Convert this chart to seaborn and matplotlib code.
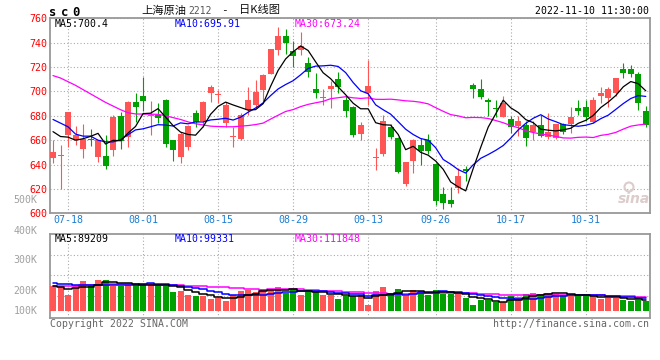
import numpy as np
import pandas as pd
import matplotlib
matplotlib.use("Agg")
import matplotlib.pyplot as plt
from matplotlib.patches import Ellipse
import seaborn as sns

# ---------------- data ----------------
open_ = [645.7, 646.7, 664.6, 660.5, 652.5, 660.5, 645.8, 646.8, 651.8, 679.7,
         662.2, 691.5, 696.4, 679.5, 681.0, 693.0, 660.0, 645.8, 654.5, 682.4,
         675.5, 698.7, 697.0, 674.0, 662.8, 660.6, 685.0, 688.6, 701.0, 714.5,
         734.0, 745.5, 733.0, 734.0, 723.6, 702.0, 694.5, 701.7, 710.2, 693.0,
         687.5, 665.0, 698.4, 645.5, 648.6, 671.0, 662.0, 624.0, 643.0, 656.0,
         660.3, 640.8, 616.0, 611.3, 620.8, 636.7, 705.5, 702.2, 693.2, 685.8,
         679.0, 677.4, 672.0, 672.2, 666.4, 672.7, 662.7, 661.4, 673.0, 673.1,
         686.5, 687.0, 675.0, 696.4, 694.8, 698.4, 718.3, 718.3, 714.2, 683.8]
high = [660.0, 656.0, 683.5, 672.0, 673.5, 669.5, 660.5, 664.0, 680.5, 683.0,
        692.0, 698.6, 711.8, 692.0, 690.5, 693.5, 660.5, 667.0, 672.5, 684.6,
        692.0, 705.6, 701.0, 691.5, 671.0, 682.0, 703.5, 709.0, 714.0, 735.0,
        753.0, 751.0, 741.5, 748.5, 728.0, 715.4, 701.7, 708.5, 716.2, 697.0,
        688.0, 675.0, 725.8, 653.8, 680.6, 673.2, 662.8, 642.5, 660.7, 661.5,
        665.0, 641.0, 621.4, 621.4, 637.2, 638.6, 707.0, 710.4, 695.0, 692.7,
        696.0, 679.6, 679.6, 676.0, 676.0, 681.0, 682.0, 673.5, 674.0, 687.0,
        693.0, 693.0, 695.6, 703.3, 703.8, 711.0, 723.0, 721.6, 716.0, 688.0]
low = [641.0, 620.0, 654.5, 656.0, 645.5, 655.0, 642.0, 636.0, 647.0, 652.5,
       654.5, 675.3, 683.6, 664.0, 674.5, 654.5, 643.0, 641.0, 651.8, 671.0,
       671.0, 691.4, 690.5, 671.0, 654.0, 660.0, 680.5, 687.0, 692.0, 714.0,
       730.0, 731.0, 720.0, 730.0, 712.0, 695.0, 688.8, 686.4, 698.4, 679.3,
       662.8, 660.0, 688.8, 635.5, 647.0, 661.0, 633.3, 622.3, 633.3, 639.6,
       649.0, 607.0, 603.6, 605.0, 616.7, 626.3, 694.6, 693.8, 679.6, 679.0,
       679.0, 666.0, 663.7, 655.5, 660.0, 663.0, 660.6, 661.0, 665.0, 665.5,
       681.0, 676.0, 673.7, 690.2, 687.4, 696.0, 711.2, 711.5, 684.7, 671.0]
close = [650.4, 647.5, 683.0, 664.0, 661.0, 660.0, 660.0, 639.2, 679.2, 659.4,
         691.5, 687.0, 691.8, 681.0, 678.0, 657.0, 652.0, 665.0, 671.5, 675.0,
         691.0, 703.7, 697.5, 689.0, 663.3, 680.5, 693.0, 699.6, 713.3, 734.8,
         745.5, 740.0, 729.0, 737.2, 716.2, 699.0, 695.2, 704.7, 703.3, 684.2,
         664.2, 672.4, 704.7, 646.2, 675.7, 662.8, 634.0, 642.3, 660.0, 651.0,
         651.0, 610.0, 608.5, 608.0, 631.0, 634.5, 702.0, 695.1, 691.0, 685.4,
         690.5, 670.8, 676.0, 661.8, 672.7, 663.7, 666.8, 673.0, 666.3, 679.1,
         684.0, 679.0, 693.0, 698.9, 701.6, 710.7, 714.8, 714.5, 690.2, 672.3]
volume = [198600, 193100, 130600, 204000, 244800, 212200, 253000, 253000, 204000, 204000,
          212200, 206700, 206700, 225800, 206700, 198600, 155000, 163200, 130600, 122400,
          119700, 97900, 103400, 81600, 130600, 163200, 165900, 155000, 179500, 165900,
          195800, 146900, 179500, 130600, 152300, 152300, 130600, 130600, 97900, 122400,
          122400, 130600, 43500, 163200, 190400, 146900, 179500, 122400, 171400, 163200,
          130600, 171400, 138700, 138700, 138700, 106100, 49000, 89800, 89800, 70700,
          68000, 117000, 111500, 138700, 146900, 138700, 146900, 138700, 130600, 117000,
          122400, 117000, 117000, 97900, 103400, 103400, 89800, 81600, 89800, 81600]

# moving-average values at the start of the window (their windows begin before it)
ma5_head = [667.0, 663.0, 662.5, 660.0]
ma10_head = [677.0, 674.0, 671.0, 665.0, 663.3, 663.3, 660.0, 658.6, 658.6]
ma30_head = [713.0, 711.0, 708.0, 705.0, 701.5, 698.0, 694.5, 691.0, 688.0, 685.0,
             682.5, 681.5, 681.4, 681.3, 681.2, 680.0, 678.5, 677.0, 675.0, 673.5,
             672.5, 671.5, 671.2, 671.0, 671.0, 671.5, 672.0, 672.8, 674.0]
vma5_head = [204000, 195800, 179500, 182200]
vma10_head = [225800, 220300, 214900, 212200, 209400, 206700, 206700, 206700, 209400]
vma30_head = [198600, 198600, 201300, 204000, 206700, 209400, 212200, 212200, 214900, 214900,
              217600, 217600, 214900, 214900, 212200, 212200, 209400, 206700, 204000, 201300,
              198600, 195800, 195800, 190400, 185000, 182200, 179500, 174100, 171400]

# legend texts as printed on the chart
price_ma_labels = ["MA5:700.4", "MA10:695.91", "MA30:673.24"]
vol_ma_labels = ["MA5:89209", "MA10:99331", "MA30:111848"]

holidays = ["2022-09-12", "2022-10-03", "2022-10-04", "2022-10-05", "2022-10-06", "2022-10-07"]
tick_labels = ["07-18", "08-01", "08-15", "08-29", "09-13", "09-26", "10-17", "10-31"]
price_ticks = [600, 620, 640, 660, 680, 700, 720, 740, 760]
vol_labels = ["500K", "400K", "300K", "200K", "100K"]

# ---------------- styling ----------------
RED = "#ff5555"
GREEN = "#00a000"
BLUE_TXT = "#1a7fd4"
GRID = "#aaaaaa"
SPINE = "#999999"
MA_COLORS = ["black", "#0000ff", "#ff00ff"]

sns.set_theme(style="white")
plt.rcParams["font.family"] = ["DejaVu Sans Mono", "Noto Sans CJK SC"]

W, H = 660, 360
fig = plt.figure(figsize=(W / 100, H / 100), dpi=100)
fig.patch.set_facecolor("white")


def rect(l, t, r, b):
    return [l / W, 1 - b / H, (r - l) / W, (b - t) / H]


def ftext(x, y, s, **kw):
    return fig.text(x / W, 1 - y / H, s, **kw)


ax1 = fig.add_axes(rect(50.3, 18.3, 650, 213.3))
ax2 = fig.add_axes(rect(50.3, 234.3, 650, 317.7))

dates = pd.bdate_range("2022-07-14", "2022-11-10", freq="C", holidays=holidays)
md = list(dates.strftime("%m-%d"))
tick_pos = [md.index(t) for t in tick_labels]

o = np.array(open_)
c = np.array(close)
x = np.arange(len(c))
up = c >= o
cols = np.where(up, RED, GREEN)

# moving averages
cs = pd.Series(c)
ma5 = cs.rolling(5).mean().to_numpy()
ma10 = cs.rolling(10).mean().to_numpy()
ma30 = cs.rolling(30).mean().to_numpy()
ma5[:len(ma5_head)] = ma5_head
ma10[:len(ma10_head)] = ma10_head
ma30[:len(ma30_head)] = ma30_head

vs = pd.Series(np.array(volume, dtype=float))
vma5 = vs.rolling(5).mean().to_numpy()
vma10 = vs.rolling(10).mean().to_numpy()
vma30 = vs.rolling(30).mean().to_numpy()
vma5[:len(vma5_head)] = vma5_head
vma10[:len(vma10_head)] = vma10_head
vma30[:len(vma30_head)] = vma30_head

# ---------------- price panel ----------------
ax1.vlines(x, low, high, colors=cols, linewidth=0.8, zorder=3)
body_bottom = np.minimum(o, c)
body_h = np.maximum(np.abs(c - o), 0.8)
ax1.bar(x, body_h, bottom=body_bottom, width=0.8, color=cols, linewidth=0, zorder=4)

sns.lineplot(x=x, y=ma30, color="#ff00ff", linewidth=0.9, ax=ax1, zorder=5)
sns.lineplot(x=x, y=ma10, color="#0000ff", linewidth=0.9, ax=ax1, zorder=5)
sns.lineplot(x=x, y=ma5, color="black", linewidth=0.9, ax=ax1, zorder=6)

ax1.set_xlim(-0.36, 79.56)
ax1.set_ylim(600, 760)
ax1.set_yticks(price_ticks)
ax1.set_yticklabels([str(v) for v in price_ticks], color="#ff0000", fontsize=7.2)
ax1.set_xticks(tick_pos)
ax1.set_xticklabels(tick_labels, color=BLUE_TXT, fontsize=7.2)
ax1.tick_params(axis="both", length=0)
ax1.tick_params(axis="y", pad=2.4)
ax1.tick_params(axis="x", pad=1.2)
ax1.grid(True, color=GRID, linestyle=(0, (1, 2)), linewidth=0.8)
ax1.set_xlabel("")
ax1.set_ylabel("")

# ---------------- volume panel ----------------
vdf = pd.DataFrame({"x": x, "vol": volume, "dir": np.where(up, "up", "down")})
sns.barplot(data=vdf, x="x", y="vol", hue="dir", palette={"up": RED, "down": GREEN},
            native_scale=True, width=0.8, dodge=False, legend=False, errorbar=None,
            saturation=1, linewidth=0, ax=ax2, zorder=3)
sns.lineplot(x=x, y=vma30, color="#ff00ff", linewidth=1.1, drawstyle="steps-mid", ax=ax2, zorder=5)
sns.lineplot(x=x, y=vma10, color="#0000ff", linewidth=1.1, drawstyle="steps-mid", ax=ax2, zorder=5)
sns.lineplot(x=x, y=vma5, color="black", linewidth=1.1, drawstyle="steps-mid", ax=ax2, zorder=6)

ax2.set_xlim(-0.36, 79.56)
ax2.set_ylim(-57100, 623400)
ax2.set_xticks(tick_pos)
ax2.set_xticklabels([])
ax2.set_yticks([])
ax2.set_yticks([120000, 288900, 454500], minor=True)
ax2.tick_params(axis="both", which="both", length=0)
ax2.grid(True, which="minor", axis="y", color=GRID, linestyle=(0, (1, 2)), linewidth=0.8)
ax2.grid(True, which="major", axis="x", color=GRID, linestyle=(0, (1, 2)), linewidth=0.8)
ax2.set_xlabel("")
ax2.set_ylabel("")

for ax in (ax1, ax2):
    ax.set_facecolor("white")
    for sp in ax.spines.values():
        sp.set_visible(True)
        sp.set_color(SPINE)
        sp.set_linewidth(1.3)

# ---------------- texts ----------------
mono = "DejaVu Sans Mono"
cjk = ["Noto Sans CJK SC", "DejaVu Sans"]
for ch, cx in zip("sc0", [52.5, 64.7, 76.3]):
    ftext(cx, 16, ch, ha="center", va="baseline", fontsize=8.7, fontweight="bold", family=mono, color="black")

ftext(141.7, 10.5, "上海原油", ha="left", va="center", fontsize=8.1, family=cjk, color="#111111")
ftext(188.3, 10.5, "2212", ha="left", va="center", fontsize=7.0, family=mono, color="#555555")
ftext(224.0, 10.5, "-", ha="center", va="center", fontsize=8, family=mono, color="#111111")
ftext(239.3, 10.5, "日K线图", ha="left", va="center", fontsize=8.1, family=cjk, color="#111111")
ftext(649, 11, "2022-11-10 11:30:00", ha="right", va="center", fontsize=7.1, family=mono, color="black")

for lab, lx, col in zip(price_ma_labels, [54.3, 175.0, 295.0], MA_COLORS):
    ftext(lx, 24, lab, ha="left", va="center", fontsize=7.1, family=mono, color=col)
for lab, lx, col in zip(vol_ma_labels, [54.7, 174.7, 294.7], MA_COLORS):
    ftext(lx, 238.7, lab, ha="left", va="center", fontsize=7.1, family=mono, color=col)

for lab, ly in zip(vol_labels, [200, 230.7, 260.3, 291, 311]):
    ftext(37.3, ly, lab, ha="right", va="center", fontsize=7.1, family=mono, color="#a0a0a0")

ftext(50, 324, "Copyright 2022 SINA.COM", ha="left", va="center", fontsize=7.1, family=mono, color="#666666")
ftext(649, 324, "http://finance.sina.com.cn", ha="right", va="center", fontsize=7.1, family=mono, color="#666666")

# faint sina watermark
ftext(634, 199, "sina", ha="center", va="center", fontsize=10, fontweight="bold", fontstyle="italic",
      family="DejaVu Sans", color="#dccccc")
fig.add_artist(Ellipse((629 / W, 1 - 187 / H), 9 / W, 9 / H, transform=fig.transFigure,
                       fill=False, edgecolor="#dccccc", linewidth=1.5))

fig.savefig("out.png", dpi=100, facecolor="white")
